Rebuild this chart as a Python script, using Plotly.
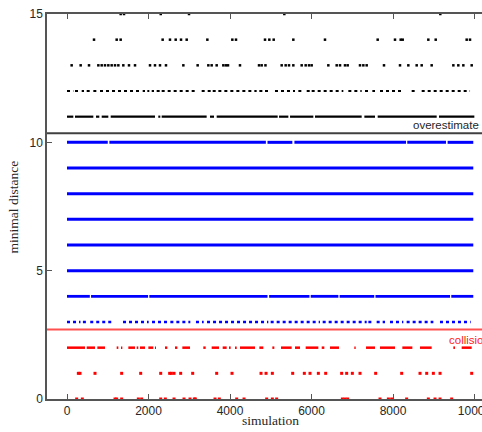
import plotly.graph_objects as go

# ---- data ----
pts_15 = [1317, 1399, 2300, 2994, 5333, 9161]
pts_14 = [663, 1219, 1317, 2347, 2527, 2667, 2798, 2937, 3444, 4057, 4147, 4859, 4965,
          5072, 5554, 6331, 7624, 8049, 8189, 8238, 8867, 9048, 9808, 9890]
pts_13 = [114, 335, 540, 769, 851, 932, 1014, 1096, 1178, 1260, 1382, 1521, 1669, 2037,
          2159, 2282, 2429, 2855, 3206, 3468, 3550, 3673, 3836, 3900, 3951, 4245, 4712,
          4777, 4870, 5268, 5366, 5448, 5554, 5759, 5857, 5939, 6004, 6413, 6618, 6700,
          6822, 6888, 7190, 7272, 7354, 7779, 8172, 8376, 8581, 8704, 8949, 9481, 9603,
          9726, 9931]
seg_12 = [(0, 155), (196, 319), (360, 417), (483, 605), (646, 728), (810, 1505),
          (1546, 1791), (1857, 1914), (1971, 2020), (2078, 2135), (2200, 2282),
          (2323, 3182), (3305, 3550), (3575, 3673), (3714, 4654), (4720, 4818),
          (4859, 4998), (5104, 5595), (5677, 5800), (5882, 5963), (6004, 6781),
          (6904, 7231), (7313, 7395), (7493, 7558), (7681, 8213), (8458, 8581),
          (8704, 9890)]
seg_11 = [(0, 155), (196, 646), (712, 793), (851, 1014), (1072, 2159), (2240, 2290),
          (2323, 3427), (3509, 3607), (3673, 5170), (5203, 5432), (5473, 6045),
          (6086, 7231), (7297, 7558), (7624, 9072), (9129, 9996)]

seg_10 = [(0, 1000), (1040, 4880), (4920, 5530), (5580, 8320), (8350, 9300), (9340, 9970)]
seg_9 = [(0, 9970)]
seg_8 = [(0, 9970)]
seg_7 = [(0, 9970)]
seg_6 = [(0, 9970)]
seg_5 = [(0, 9970)]
seg_4 = [(0, 560), (590, 1990), (2020, 4920), (4960, 5950), (5980, 6660), (6690, 7540),
         (7570, 9400), (9430, 9970)]
seg_3 = [(0, 330), (390, 490), (570, 1145), (1374, 2004), (2086, 2454), (2536, 3026),
         (3165, 3354), (3436, 4940), (4998, 6208), (6274, 7354), (7395, 7517),
         (7599, 7804), (7926, 8253), (8335, 8990), (9153, 9906)]

seg_2 = [(0, 442), (483, 687), (744, 932), (1219, 1260), (1325, 1358), (1505, 1669),
         (1710, 1750), (1791, 1914), (1996, 2118), (2159, 2184), (2405, 2462),
         (2650, 2708), (2830, 3018), (3345, 3403), (3550, 3730), (3820, 3918),
         (3975, 4016), (4123, 4164), (4245, 4614), (4720, 4818), (5039, 5088),
         (5252, 5513), (5595, 5718), (5857, 6168), (6250, 6315), (6454, 6675),
         (7051, 7084), (7338, 7558), (7681, 8049), (8229, 8475), (8663, 8949),
         (9481, 9522), (9685, 9931)]
pts_1 = [278, 319, 687, 1341, 1808, 2299, 2519, 2560, 2626, 2789, 3084, 3673, 4049, 4761,
         4884, 5039, 5538, 5824, 5963, 6168, 6348, 6740, 6863, 7002, 7190, 7575, 8213,
         8663, 8827, 8990, 9154, 9931]
pts_0 = [237, 376, 1178, 1219, 1341, 1750, 1832, 2299, 2413, 2626, 2871, 3018, 3125, 3149,
         3632, 3738, 4164, 4344, 4900, 5039, 5145, 6757, 6822, 6888, 7681, 7886, 7967,
         8335, 8867, 9031, 9154, 9440]

overestimate_level = 10.35
collision_level = 2.71
x_ticks = [0, 2000, 4000, 6000, 8000, 10000]
y_ticks = [0, 5, 10, 15]

BLUE = "#0000ff"
RED = "#ff0000"
BLACK = "#000000"

fig = go.Figure()


def add_segments(segs, level, color, width, dash="solid"):
    xs, ys = [], []
    for a, b in segs:
        xs += [a, b, None]
        ys += [level, level, None]
    fig.add_trace(go.Scatter(x=xs, y=ys, mode="lines",
                             line=dict(color=color, width=width, dash=dash),
                             hoverinfo="skip", showlegend=False))


def add_points(xs, level, color, size=3):
    fig.add_trace(go.Scatter(x=xs, y=[level] * len(xs), mode="markers",
                             marker=dict(color=color, size=size, symbol="square",
                                         line=dict(width=0)),
                             cliponaxis=False, hoverinfo="skip", showlegend=False))


# black (overestimate)
add_points(pts_15, 15, BLACK, 2.5)
add_points(pts_14, 14, BLACK, 2.5)
add_points(pts_13, 13, BLACK, 2.5)
add_segments(seg_12, 12, BLACK, 2, "dot")
add_segments(seg_11, 11, BLACK, 2.2)

# blue
for lvl, segs, w in [(10, seg_10, 3), (9, seg_9, 3), (8, seg_8, 3), (7, seg_7, 3),
                     (6, seg_6, 3), (5, seg_5, 3), (4, seg_4, 2.8)]:
    add_segments(segs, lvl, BLUE, w)
add_segments(seg_3, 3, BLUE, 2.5, "dot")

# red (collision)
add_segments(seg_2, 2, RED, 2.5)
add_points(pts_1, 1, RED, 3)
add_points(pts_0, 0, RED, 3)

# threshold lines
fig.add_hline(y=overestimate_level, line=dict(color="#404040", width=2))
fig.add_hline(y=collision_level, line=dict(color="#ff5050", width=2))

fig.add_annotation(x=10184, y=overestimate_level, text="overestimate", showarrow=False,
                   xanchor="right", yanchor="bottom", yshift=0, xshift=-1,
                   font=dict(family="Liberation Sans, Arial", size=11.5, color="#262626"))
fig.add_annotation(x=9333, y=collision_level, text="collision", showarrow=False,
                   xanchor="left", yanchor="top", yshift=-3,
                   font=dict(family="Liberation Sans, Arial", size=11.5, color="#ff2020"))

# axis titles
fig.add_annotation(xref="paper", yref="paper", x=-0.076, y=0.5, text="minimal distance",
                   textangle=-90, showarrow=False, xanchor="center", yanchor="middle",
                   font=dict(family="Liberation Serif, DejaVu Serif", size=13.5, color="#262626"))
fig.add_annotation(xref="paper", yref="paper", x=0.514, y=-0.056, text="simulation",
                   showarrow=False, xanchor="center", yanchor="middle",
                   font=dict(family="Liberation Serif, DejaVu Serif", size=13.5, color="#262626"))

axis_common = dict(showgrid=False, zeroline=False, showline=True, linecolor="#555555",
                   linewidth=1.5, ticks="inside", ticklen=5, tickwidth=1,
                   tickcolor="#555555", automargin=False, ticklabeloverflow="allow",
                   tickfont=dict(family="Liberation Sans, Arial", size=12, color="#262626"))

fig.update_xaxes(range=[-491, 10184], tickvals=x_ticks,
                 ticktext=[str(v) for v in x_ticks], mirror="ticks", **axis_common)
fig.update_yaxes(range=[0, 15], tickvals=y_ticks,
                 ticktext=[str(v) for v in y_ticks], mirror=False, **axis_common)

fig.update_layout(width=482, height=432, margin=dict(l=47, r=0, t=14, b=33),
                  plot_bgcolor="white", paper_bgcolor="white", showlegend=False)

fig.write_html("out.html", config={"displayModeBar": False},
               post_script="document.body.style.margin='0';document.body.style.overflow='hidden';")
